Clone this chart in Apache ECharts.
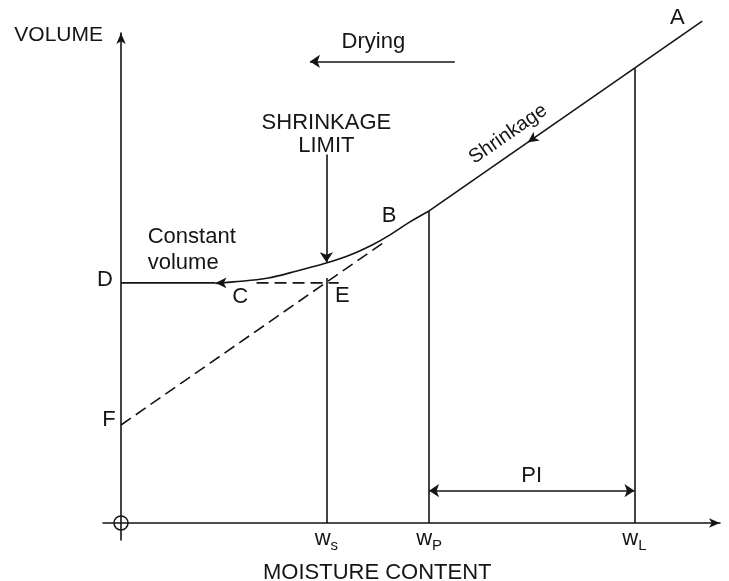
<!DOCTYPE html>
<html>
<head>
<meta charset="utf-8">
<script src="https://cdn.jsdelivr.net/npm/echarts@6/dist/echarts.min.js"></script>
<style>
  html, body { margin: 0; padding: 0; background: #fff; }
  #chart { width: 729px; height: 581px; }
</style>
</head>
<body>
<div id="chart"></div>
<script>
// moisture content at shrinkage, plastic and liquid limit
const limitMoisture = [20, 30, 50];
const limitSubs = ['s', 'P', 'L'];

// straight shrinkage line  V = intercept + slope * w
const lineIntercept = 10;
const lineSlope = 0.728;
const lineEnd = 56.6;
const dashedEnd = 25.5;

// volume once shrinkage stops
const constantVolume = 24.5;

// curve from B down to C
const curveMoisture = [9.2, 10.9, 14.2, 17.4, 19.9, 22.3, 24.5, 26.2, 28.1, 30];
const curveVolume = [24.45, 24.6, 24.97, 25.8, 26.5, 27.35, 28.4, 29.4, 30.7, 31.84];

// annotation arrows
const dryingRange = [18.4, 32.5];
const dryingLevel = 47.1;
const limitArrowVolume = [37.6, 26.6];
const piLevel = 3.3;

const letters = ['A', 'B', 'C', 'D', 'E', 'F'];

const vol = w => lineIntercept + lineSlope * w;
const ws = limitMoisture[0], wp = limitMoisture[1], wl = limitMoisture[2];

const letterPoints = [
  [lineEnd, vol(lineEnd)],
  [wp, vol(wp)],
  [11.6, constantVolume],
  [0, constantVolume],
  [ws, vol(ws)],
  [0, lineIntercept]
];
const letterOffsets = [[-25, -3], [-40, 5], [0, 14], [-16, -3], [16, 14], [-12, -5]];

const FONT = '"Liberation Sans", Arial, sans-serif';
const INK = '#151515';
const lw = 1.6;
const arrowSize = [8, 11];

const chart = echarts.init(document.getElementById('chart'));

const seg = (a, b) => [{ coord: a }, { coord: b }];

const option = {
  animation: false,
  backgroundColor: '#fff',
  textStyle: { fontFamily: FONT, color: INK },
  grid: { left: 103, right: 9, top: 33, bottom: 41, containLabel: false, outerBoundsMode: 'none' },
  graphic: [{
    type: 'text',
    left: 263,
    top: 562,
    style: { text: 'MOISTURE CONTENT', fontSize: 22, fontFamily: FONT, fill: INK }
  }],
  xAxis: {
    type: 'value',
    min: -1.753,
    max: 58.33,
    axisLine: { lineStyle: { color: INK, width: lw }, symbol: ['none', 'arrow'], symbolSize: [7, 11] },
    axisTick: { show: false },
    splitLine: { show: false },
    axisLabel: {
      customValues: limitMoisture,
      margin: -15,
      formatter: v => '{w|w}{s|' + limitSubs[limitMoisture.indexOf(v)] + '}',
      rich: {
        w: { fontSize: 22, color: INK, fontFamily: FONT },
        s: { fontSize: 15, color: INK, fontFamily: FONT, padding: [13, 0, 0, 0] }
      }
    }
  },
  yAxis: {
    type: 'value',
    min: -1.735,
    max: 50,
    name: 'VOLUME',
    nameLocation: 'end',
    nameGap: -2,
    nameTextStyle: { fontSize: 21, color: INK, fontFamily: FONT, align: 'right', verticalAlign: 'middle', padding: [0, 18, 0, 0] },
    axisLine: { lineStyle: { color: INK, width: lw }, symbol: ['none', 'arrow'], symbolSize: [7, 11] },
    axisTick: { show: false },
    splitLine: { show: false },
    axisLabel: { show: false }
  },
  series: [
    {
      name: 'shrinkage',
      type: 'line',
      clip: false,
      symbol: 'none',
      lineStyle: { color: INK, width: lw },
      data: [[wp, vol(wp)], [lineEnd, vol(lineEnd)]]
    },
    {
      name: 'extension',
      type: 'line',
      symbol: 'none',
      lineStyle: { color: INK, width: lw, type: [12, 6] },
      data: [[0, lineIntercept], [dashedEnd, vol(dashedEnd)]]
    },
    {
      name: 'curve',
      type: 'line',
      smooth: 0.4,
      symbol: 'none',
      lineStyle: { color: INK, width: lw },
      data: curveMoisture.map((w, i) => [w, curveVolume[i]])
    },
    {
      name: 'constant',
      type: 'line',
      symbol: 'none',
      lineStyle: { color: INK, width: lw },
      data: [[0, constantVolume], [curveMoisture[0], constantVolume]]
    },
    {
      name: 'constant dashed',
      type: 'line',
      symbol: 'none',
      lineStyle: { color: INK, width: lw, type: [12, 6] },
      data: [[13.2, constantVolume], [21.2, constantVolume]]
    },
    {
      name: 'guides',
      type: 'line',
      data: [],
      markLine: {
        silent: true,
        symbol: 'none',
        label: { show: false },
        lineStyle: { color: INK, width: lw, type: 'solid' },
        data: [
          seg([ws, 0], [ws, 25]),
          seg([wp, 0], [wp, vol(wp)]),
          seg([wl, 0], [wl, vol(wl)])
        ]
      }
    },
    {
      name: 'drying',
      type: 'line',
      data: [],
      markLine: {
        silent: true,
        symbol: ['arrow', 'none'],
        symbolSize: 10,
        itemStyle: { color: INK },
        lineStyle: { color: INK, width: lw, type: 'solid' },
        label: {
          show: true, position: 'middle', formatter: 'Drying', distance: 8,
          fontSize: 22, color: INK, fontFamily: FONT, padding: [0, 18, 0, 0]
        },
        data: [seg([dryingRange[0], dryingLevel], [dryingRange[1], dryingLevel])]
      }
    },
    {
      name: 'limit arrow',
      type: 'line',
      data: [],
      markLine: {
        silent: true,
        symbol: ['none', 'arrow'],
        symbolSize: 10,
        itemStyle: { color: INK },
        lineStyle: { color: INK, width: lw, type: 'solid' },
        label: {
          show: true, position: 'start', formatter: 'SHRINKAGE\nLIMIT', distance: -3,
          fontSize: 22, lineHeight: 23, align: 'center', color: INK, fontFamily: FONT
        },
        data: [seg([ws, limitArrowVolume[0]], [ws, limitArrowVolume[1]])]
      }
    },
    {
      name: 'PI',
      type: 'line',
      data: [],
      markLine: {
        silent: true,
        symbol: ['arrow', 'arrow'],
        symbolSize: 10,
        itemStyle: { color: INK },
        lineStyle: { color: INK, width: lw, type: 'solid' },
        label: {
          show: true, position: 'middle', formatter: 'PI', distance: 4,
          fontSize: 22, color: INK, fontFamily: FONT
        },
        data: [seg([wp, piLevel], [wl, piLevel])]
      }
    },
    {
      name: 'arrowheads',
      type: 'scatter',
      silent: true,
      itemStyle: { color: INK, opacity: 1 },
      symbol: 'arrow',
      symbolSize: arrowSize,
      data: [
        { value: [curveMoisture[0], constantVolume], symbolRotate: 90 },
        { value: [39.6, vol(39.6)], symbolRotate: 124.8 }
      ]
    },
    {
      name: 'origin',
      type: 'scatter',
      silent: true,
      symbol: 'circle',
      symbolSize: 14,
      itemStyle: { color: 'rgba(0,0,0,0)', borderColor: INK, borderWidth: 1.5, opacity: 1 },
      data: [[0, 0]]
    },
    {
      name: 'letters',
      type: 'scatter',
      silent: true,
      clip: false,
      symbolSize: 0,
      itemStyle: { opacity: 1 },
      label: {
        show: true, position: 'inside', formatter: '{b}',
        fontSize: 22, color: INK, fontFamily: FONT
      },
      data: letters.map((l, i) => ({
        name: l,
        value: letterPoints[i],
        label: { offset: letterOffsets[i] }
      }))
    },
    {
      name: 'notes',
      type: 'scatter',
      silent: true,
      symbolSize: 0,
      itemStyle: { opacity: 1 },
      data: [
        {
          value: [2.6, 27.9],
          label: {
            show: true, position: 'inside', formatter: 'Constant\nvolume',
            align: 'left', fontSize: 22, lineHeight: 26, color: INK, fontFamily: FONT
          }
        },
        {
          value: [38.7, vol(38.7)],
          label: {
            show: true, position: 'inside', formatter: 'Shrinkage', rotate: 34.8,
            offset: [0, -18], fontSize: 20, color: INK, fontFamily: FONT
          }
        }
      ]
    }
  ]
};

chart.setOption(option);
</script>
</body>
</html>
